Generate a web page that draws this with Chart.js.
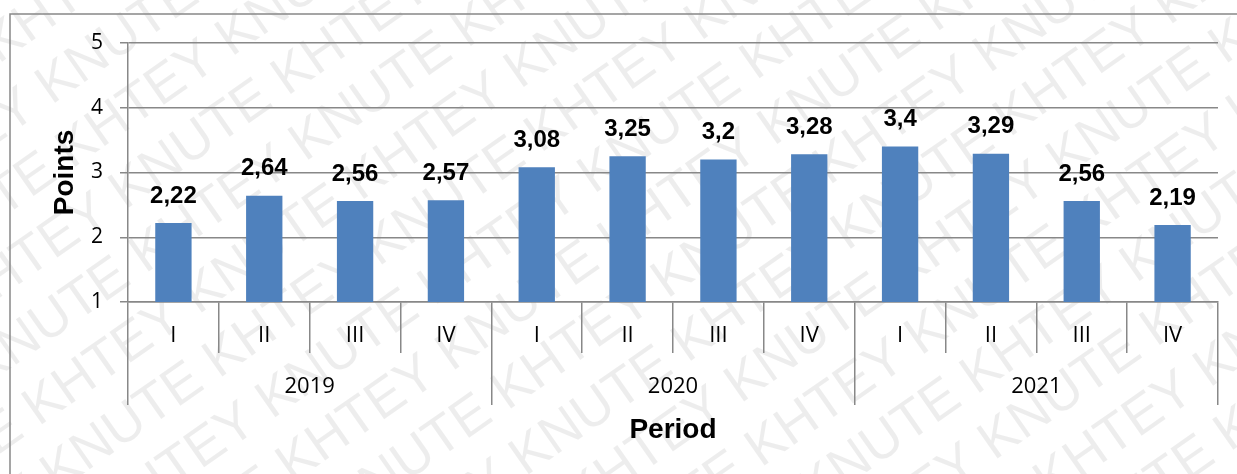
<!DOCTYPE html>
<html>
<head>
<meta charset="utf-8">
<script src="https://cdn.jsdelivr.net/npm/chart.js@4.4.1/dist/chart.umd.min.js"></script>
<style>
  html, body { margin: 0; padding: 0; background: #fff; }
  #wrap { position: relative; width: 1237px; height: 474px; }
</style>
</head>
<body>
<div id="wrap"><canvas id="pointsChart"></canvas></div>
<script>
// Quarterly points, 2019-2021
const quarters = ['I', 'II', 'III', 'IV', 'I', 'II', 'III', 'IV', 'I', 'II', 'III', 'IV'];
const years = ['2019', '2020', '2021'];
const points = [2.22, 2.64, 2.56, 2.57, 3.08, 3.25, 3.2, 3.28, 3.4, 3.29, 2.56, 2.19];
const yTicks = [1, 2, 3, 4, 5];

const lineColor = '#888888';
const barColor = '#4f81bd';

// Faint diagonal watermark behind everything
const watermark = {
    id: 'watermark',
    beforeDraw(chart) {
        const ctx = chart.ctx;
        ctx.save();
        ctx.fillStyle = 'rgba(0, 0, 0, 0.07)';
        ctx.font = '54px "Liberation Sans", Arial, sans-serif';
        ctx.textBaseline = 'middle';
        ctx.translate(chart.width / 2, chart.height / 2);
        ctx.rotate(-35 * Math.PI / 180);
        const row = 'KNUTE KHTEY KNUTE KHTEY KNUTE KHTEY KNUTE KHTEY KNUTE KHTEY ';
        for (let i = -8; i <= 8; i++) {
            const shift = (i % 2 === 0) ? 0 : -175;
            ctx.fillText(row, -1000 + shift, i * 64);
        }
        ctx.restore();
    }
};

// Frame line along the top and left side
const frame = {
    id: 'frame',
    beforeDatasetsDraw(chart) {
        const ctx = chart.ctx;
        ctx.save();
        ctx.strokeStyle = lineColor;
        ctx.lineWidth = 1.5;
        ctx.beginPath();
        ctx.moveTo(10, chart.height);
        ctx.lineTo(10, 14);
        ctx.lineTo(chart.width, 14);
        ctx.stroke();
        ctx.restore();
    }
};

// Value labels above each bar, decimal comma
const valueLabels = {
    id: 'valueLabels',
    afterDatasetsDraw(chart) {
        const ctx = chart.ctx;
        const meta = chart.getDatasetMeta(0);
        ctx.save();
        ctx.fillStyle = '#000';
        ctx.font = 'bold 24px "Liberation Sans", Arial, sans-serif';
        ctx.textAlign = 'center';
        ctx.textBaseline = 'middle';
        meta.data.forEach((bar, i) => {
            const txt = String(points[i]).replace('.', ',');
            ctx.fillText(txt, bar.x, bar.y - 27);
        });
        ctx.restore();
    }
};

const ctx = document.getElementById('pointsChart').getContext('2d');

new Chart(ctx, {
    type: 'bar',
    data: {
        labels: quarters,
        datasets: [{
            data: points,
            backgroundColor: barColor,
            borderWidth: 0,
            barPercentage: 0.4,
            categoryPercentage: 1.0,
            xAxisID: 'x',
            yAxisID: 'y'
        }]
    },
    options: {
        responsive: true,
        maintainAspectRatio: false,
        animation: false,
        layout: {
            padding: { left: 10, top: 43, right: 19, bottom: 0 }
        },
        plugins: {
            legend: { display: false },
            tooltip: { enabled: false }
        },
        scales: {
            y: {
                min: 1,
                max: 5,
                afterBuildTicks: (scale) => {
                    scale.ticks = yTicks.map(v => ({ value: v }));
                },
                afterFit: (scale) => { scale.width = 118; },
                grid: {
                    color: lineColor,
                    lineWidth: 1.5,
                    tickLength: 8
                },
                border: { display: true, color: lineColor, width: 1.5 },
                ticks: {
                    padding: 17,
                    color: '#000',
                    font: { family: '"Open Sans", sans-serif', size: 21 }
                },
                title: {
                    display: true,
                    text: 'Points',
                    color: '#000',
                    font: { family: '"Liberation Sans", Arial, sans-serif', size: 28, weight: 'bold' },
                    padding: { top: 38, bottom: 0 }
                }
            },
            x: {
                position: 'bottom',
                weight: 0,
                offset: true,
                afterFit: (scale) => { scale.height = 51; },
                grid: {
                    offset: true,
                    drawOnChartArea: false,
                    color: lineColor,
                    lineWidth: 1.5,
                    tickLength: 51
                },
                border: { display: true, color: lineColor, width: 1.5 },
                ticks: {
                    padding: -30,
                    maxRotation: 0,
                    autoSkip: false,
                    color: '#000',
                    font: { family: '"Open Sans", sans-serif', size: 22 }
                }
            },
            year: {
                type: 'category',
                labels: years,
                position: 'bottom',
                weight: 1,
                offset: true,
                afterFit: (scale) => { scale.height = 121; },
                grid: {
                    offset: true,
                    drawOnChartArea: false,
                    color: lineColor,
                    lineWidth: 1.5,
                    tickLength: 52
                },
                border: { display: false },
                ticks: {
                    padding: -31,
                    maxRotation: 0,
                    autoSkip: false,
                    color: '#000',
                    font: { family: '"Open Sans", sans-serif', size: 22 }
                },
                title: {
                    display: true,
                    text: 'Period',
                    color: '#000',
                    font: { family: '"Liberation Sans", Arial, sans-serif', size: 28, weight: 'bold' },
                    padding: { top: 0, bottom: 27 }
                }
            }
        }
    },
    plugins: [watermark, frame, valueLabels]
});
</script>
</body>
</html>
